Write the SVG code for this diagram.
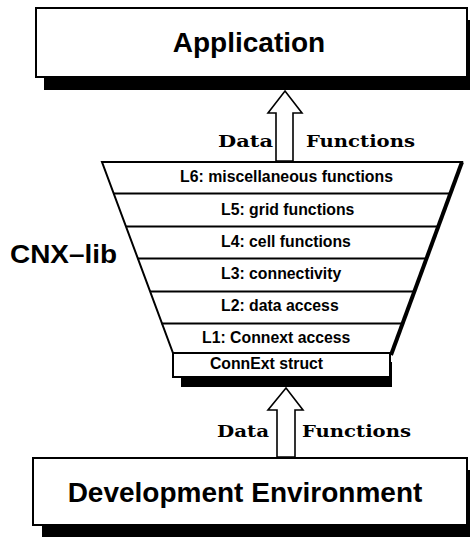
<svg xmlns="http://www.w3.org/2000/svg" width="470" height="538" viewBox="0 0 470 538">
<style>
.box{fill:#fff;stroke:#000;stroke-width:2}
.shadow{fill:#000}
.big{font-family:"Liberation Sans",Arial,sans-serif;font-weight:bold;font-size:28px;fill:#000}
.layer{font-family:"Liberation Sans",Arial,sans-serif;font-weight:bold;font-size:15.8px;fill:#000}
.lbl{font-family:"DejaVu Serif","Liberation Serif",serif;font-weight:bold;font-size:17px;fill:#000}
.arrow{fill:#fff;stroke:#000;stroke-width:1.6;stroke-linejoin:miter}
.rule{stroke:#000;stroke-width:1.8}
</style>
<rect width="470" height="538" fill="#fff"/>

<g id="application">
  <rect class="shadow" x="44" y="20" width="426" height="70"/>
  <rect class="box" x="36" y="8" width="431" height="69"/>
  <text class="big" x="249" y="52" text-anchor="middle">Application</text>
</g>

<g id="cnx-lib">
  <text x="10" y="263" font-family="Liberation Sans,Arial,sans-serif" font-weight="bold" font-size="25" textLength="107" lengthAdjust="spacingAndGlyphs">CNX–lib</text>
  <polygon points="102,162 462,162 392,353 173,353" fill="#fff" stroke="#000" stroke-width="2"/>
  <line x1="462" y1="162" x2="391" y2="355" stroke="#000" stroke-width="4"/>
  <line class="rule" x1="113.5" y1="193.5" x2="450.5" y2="193.5"/>
  <line class="rule" x1="126" y1="226.5" x2="438.5" y2="226.5"/>
  <line class="rule" x1="137.5" y1="258.5" x2="426.5" y2="258.5"/>
  <line class="rule" x1="150" y1="291.5" x2="414.5" y2="291.5"/>
  <line class="rule" x1="161.5" y1="323.5" x2="402.5" y2="323.5"/>
  <text class="layer" x="180" y="182" textLength="213" lengthAdjust="spacingAndGlyphs">L6: miscellaneous functions</text>
  <text class="layer" x="221" y="215">L5: grid functions</text>
  <text class="layer" x="221" y="247">L4: cell functions</text>
  <text class="layer" x="221" y="279">L3: connectivity</text>
  <text class="layer" x="221" y="311">L2: data access</text>
  <text class="layer" x="202" y="343">L1: Connext access</text>
</g>

<g id="connext-struct">
  <rect class="shadow" x="181" y="362" width="211" height="25"/>
  <rect class="box" x="173" y="353" width="217" height="24"/>
  <text class="layer" x="266.5" y="369" text-anchor="middle" font-size="14.8">ConnExt struct</text>
</g>

<g id="development-environment">
  <rect class="shadow" x="42" y="470" width="428" height="67"/>
  <rect class="box" x="33" y="458" width="434" height="67"/>
  <text class="big" x="245" y="502" text-anchor="middle">Development Environment</text>
</g>

<g id="connectors">
  <polygon class="arrow" points="285,91 302,113 293,113 293,161 276,161 276,113 268,113"/>
  <text class="lbl" x="218" y="147" textLength="55" lengthAdjust="spacingAndGlyphs">Data</text>
  <text class="lbl" x="306" y="147" textLength="109" lengthAdjust="spacingAndGlyphs">Functions</text>
  <polygon class="arrow" points="286,388 303,410 295,410 295,457 277,457 277,410 268,410"/>
  <text class="lbl" x="217" y="437" textLength="52" lengthAdjust="spacingAndGlyphs">Data</text>
  <text class="lbl" x="302" y="437" textLength="109" lengthAdjust="spacingAndGlyphs">Functions</text>
</g>
</svg>
